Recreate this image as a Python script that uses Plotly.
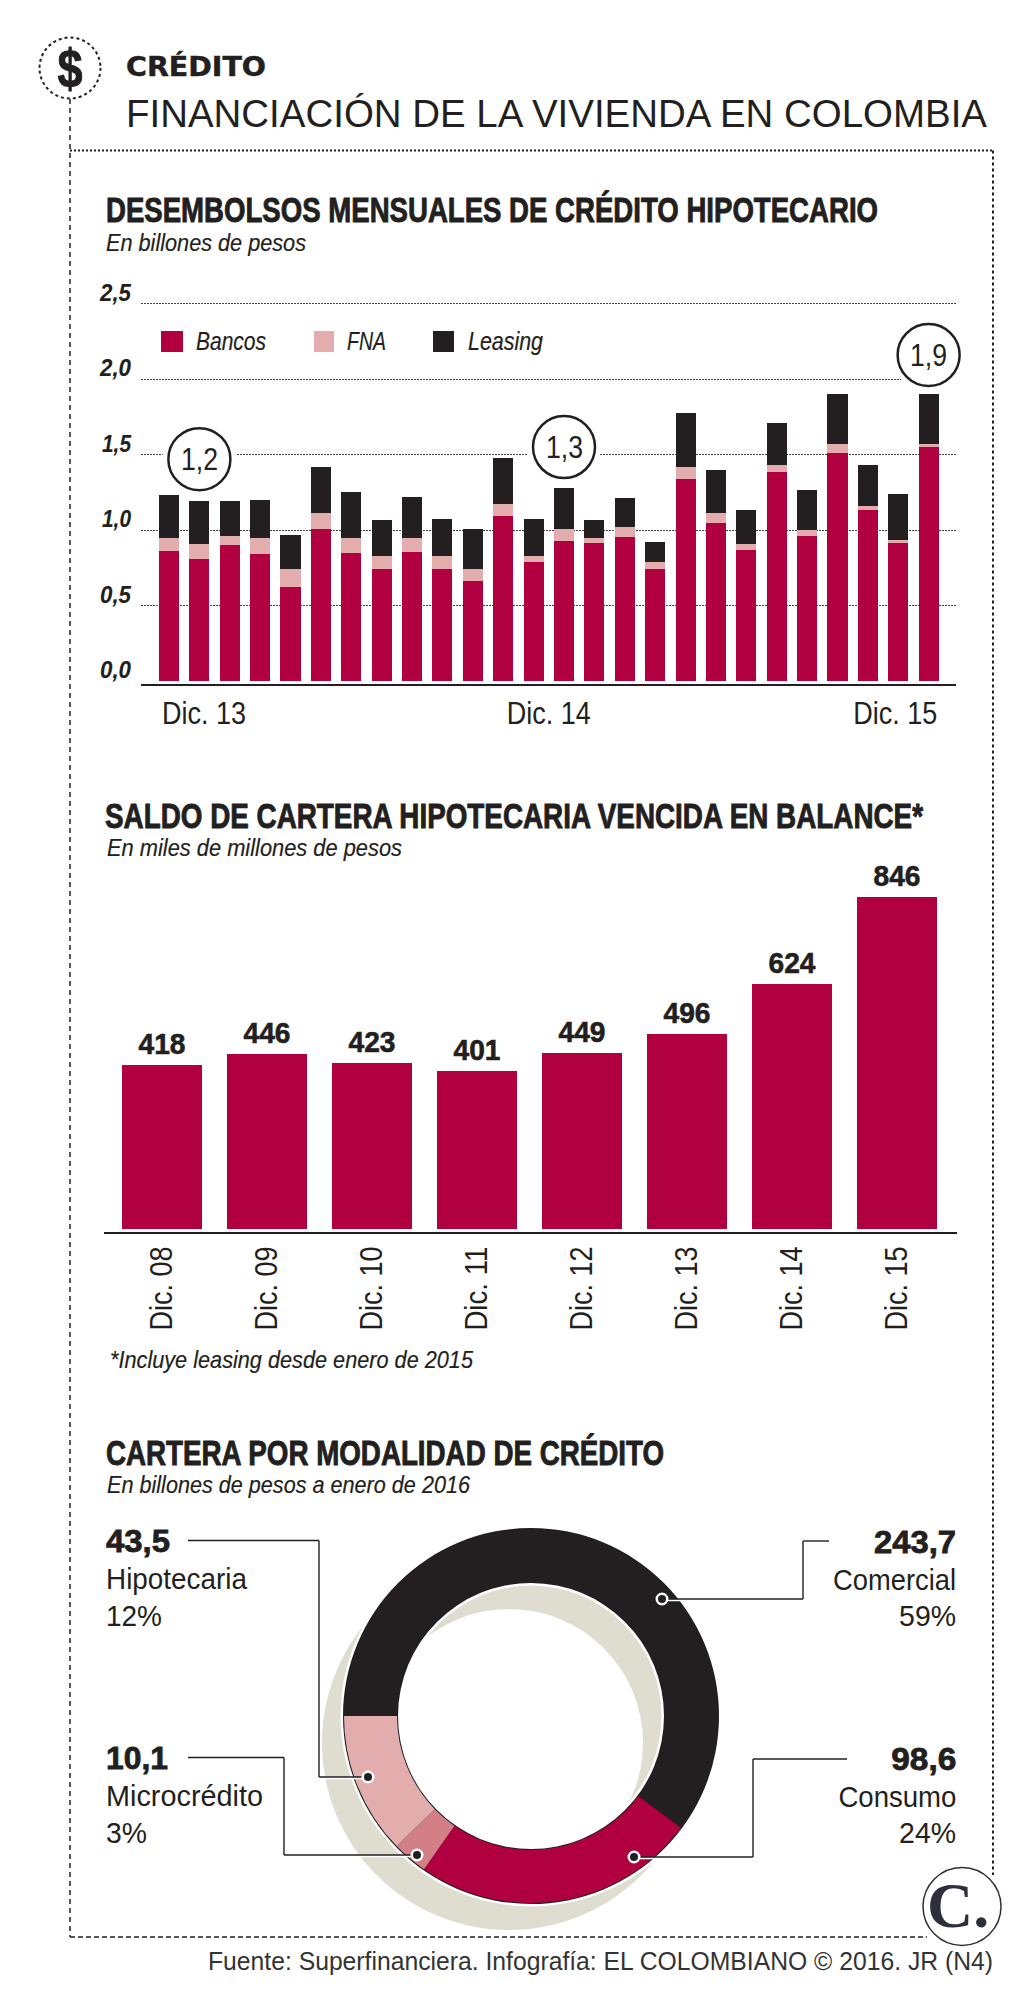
import json
import plotly.graph_objects as go

W, H = 1033, 2000
INK = "#231f20"
CRIMSON = "#b00040"
ROSE = "#e3adae"
ROSE_DARK = "#d27f86"
SAND = "#dfddcf"
SANS = "Liberation Sans"

# Monthly mortgage disbursements, billions of pesos
month_index = list(range(26))
bancos = [0.86, 0.81, 0.90, 0.84, 0.62, 1.01, 0.85, 0.74, 0.855, 0.74, 0.66, 1.09, 0.79, 0.93,
          0.915, 0.955, 0.74, 1.34, 1.05, 0.87, 1.385, 0.96, 1.51, 1.13, 0.915, 1.55]
fna = [0.085, 0.10, 0.06, 0.105, 0.12, 0.10, 0.095, 0.085, 0.09, 0.09, 0.085, 0.08, 0.04, 0.08,
       0.03, 0.065, 0.05, 0.08, 0.06, 0.04, 0.045, 0.04, 0.06, 0.03, 0.02, 0.02]
leasing = [0.29, 0.285, 0.235, 0.255, 0.225, 0.305, 0.305, 0.24, 0.275, 0.245, 0.265, 0.31, 0.245, 0.27,
           0.12, 0.195, 0.13, 0.355, 0.285, 0.225, 0.28, 0.265, 0.33, 0.27, 0.305, 0.33]
axis_values = [0.0, 0.5, 1.0, 1.5, 2.0, 2.5]
axis_labels = ["0,0", "0,5", "1,0", "1,5", "2,0", "2,5"]
month_tick_positions = [1.15, 12.5, 23.9]
month_tick_labels = ["Dic. 13", "Dic. 14", "Dic. 15"]
callout_months = [1, 13, 25]
callout_heights = [1.47, 1.55, 2.16]
callout_labels = ["1,2", "1,3", "1,9"]

# Overdue mortgage balance, thousands of millions of pesos
saldo_years = ["Dic. 08", "Dic. 09", "Dic. 10", "Dic. 11", "Dic. 12", "Dic. 13", "Dic. 14", "Dic. 15"]
saldo_values = [418, 446, 423, 401, 449, 496, 624, 846]

# Portfolio by credit type
cartera_tipos = ["Comercial", "Consumo", "Microcrédito", "Hipotecaria"]
cartera_pct = [59, 24, 3, 12]
cartera_billones = ["243,7", "98,6", "10,1", "43,5"]
cartera_colors = [INK, CRIMSON, ROSE_DARK, ROSE]

# Condensed typesetting: text -> [width in px, anchored edge, stroke thickening]
FIT = {
    "$": [25, "middle", 1.0],
    "CRÉDITO": [140, "start", 0.5],
    "FINANCIACIÓN DE LA VIVIENDA EN COLOMBIA": [861, "start", 0],
    "DESEMBOLSOS MENSUALES DE CRÉDITO HIPOTECARIO": [772, "start", 0.9],
    "SALDO DE CARTERA HIPOTECARIA VENCIDA EN BALANCE*": [818, "start", 0.9],
    "CARTERA POR MODALIDAD DE CRÉDITO": [558, "start", 0.9],
    "En billones de pesos": [200, "start", 0.2],
    "En miles de millones de pesos": [295, "start", 0.2],
    "*Incluye leasing desde enero de 2015": [363, "start", 0.2],
    "En billones de pesos a enero de 2016": [363, "start", 0.2],
    "Bancos": [70, "start", 0.2],
    "FNA": [39, "start", 0.2],
    "Leasing": [75, "start", 0.2],
    "0,0": [31, "end", 0.1], "0,5": [31, "end", 0.1], "1,0": [29, "end", 0.1],
    "1,5": [29, "end", 0.1], "2,0": [31, "end", 0.1], "2,5": [31, "end", 0.1],
    "1,2": [37, "middle", 0], "1,3": [37, "middle", 0], "1,9": [37, "middle", 0],
    "Hipotecaria": [141, "start", 0], "12%": [56, "start", 0],
    "Microcrédito": [157, "start", 0], "3%": [41, "start", 0],
    "Comercial": [123, "end", 0], "59%": [57, "end", 0],
    "Consumo": [118, "end", 0], "24%": [57, "end", 0],
    "43,5": [64, "start", 0.8], "10,1": [62, "start", 0.8],
    "243,7": [82, "end", 0.8], "98,6": [65, "end", 0.8],
    "Fuente: Superfinanciera. Infografía: EL COLOMBIANO © 2016. JR (N4)": [785, "start", 0],
}
for _year in saldo_years:
    FIT[_year] = [84, "", 0]
for _value in saldo_values:
    FIT[str(_value)] = [47, "middle", 0.6]

CONDENSE_JS = """
var fit = %s;
var gd = document.getElementById('{plot_id}');
function condense() {
  gd.querySelectorAll('svg text').forEach(function (el) {
    var spec = fit[el.textContent.trim()];
    if (!spec) { return; }
    el.removeAttribute('textLength');
    var box = el.getBBox();
    el.setAttribute('textLength', spec[0]);
    el.setAttribute('lengthAdjust', 'spacingAndGlyphs');
    if (spec[1] === 'start') {
      el.setAttribute('x', box.x);
      el.setAttribute('text-anchor', 'start');
    } else if (spec[1] === 'end') {
      el.setAttribute('x', box.x + box.width);
      el.setAttribute('text-anchor', 'end');
    }
    if (spec[2]) {
      el.style.stroke = el.style.fill;
      el.style.strokeWidth = spec[2] + 'px';
    }
  });
}
condense();
""" % json.dumps(FIT, ensure_ascii=False)


def px(x):
    return x / W


def py(y):
    return 1 - y / H


def month_x(m):
    return (169 + 30.385 * m) / W


annotations, shapes = [], []


def text(s, x, y, size, family=SANS, bold=False, italic=False, anchor="left", color=INK):
    font = dict(family=family, size=size, color=color,
                weight="bold" if bold else "normal",
                style="italic" if italic else "normal")
    annotations.append(dict(text=s, x=px(x), y=py(y), xref="paper", yref="paper",
                            xanchor=anchor, yanchor="middle", showarrow=False,
                            font=font, borderpad=0))


def rule(x0, y0, x1, y1, width=1.3, dash="solid", color=INK):
    shapes.append(dict(type="line", xref="paper", yref="paper",
                       x0=px(x0), x1=px(x1), y0=py(y0), y1=py(y1),
                       line=dict(color=color, width=width, dash=dash), layer="above"))


def disc(cx, cy, r, fill, line_color=None, line_width=0):
    shapes.append(dict(type="circle", xref="paper", yref="paper",
                       x0=px(cx - r), x1=px(cx + r), y0=py(cy - r), y1=py(cy + r),
                       fillcolor=fill, layer="above",
                       line=dict(color=line_color or fill, width=line_width)))


fig = go.Figure()

# Stacked monthly bars
for name, values, color in [("Bancos", bancos, CRIMSON), ("FNA", fna, ROSE), ("Leasing", leasing, INK)]:
    fig.add_trace(go.Bar(x=month_index, y=values, name=name, marker=dict(color=color, line_width=0),
                         width=0.66, xaxis="x", yaxis="y", showlegend=False))

# Yearly overdue balance bars with their values above
fig.add_trace(go.Bar(x=saldo_years, y=saldo_values, width=0.762, xaxis="x2", yaxis="y2",
                     marker=dict(color=CRIMSON, line_width=0), showlegend=False))
for year, value in zip(saldo_years, saldo_values):
    annotations.append(dict(text=str(value), x=year, y=value, xref="x2", yref="y2", showarrow=False,
                            xanchor="center", yanchor="bottom", yshift=4, borderpad=0,
                            font=dict(family=SANS, size=30, color=INK, weight="bold")))


def ring(cx, cy, r, hole_r, values, colors, rotation=0):
    fig.add_trace(go.Pie(values=values, hole=hole_r / r, sort=False, direction="clockwise",
                         rotation=rotation, textinfo="none", hoverinfo="skip", showlegend=False,
                         marker=dict(colors=colors, line_width=0),
                         domain=dict(x=[px(cx - r), px(cx + r)], y=[py(cy + r), py(cy - r)])))


# Donut with its offset backdrop and thin rims
CX, CY = 531, 1716
ring(CX - 22, CY + 27, 187, 134, [1], [SAND])
ring(CX, CY, 190.5, 130.5, [1], ["#ffffff"])
ring(CX, CY, 188, 133, [1], [INK])
ring(CX, CY, 187, 134, cartera_pct, cartera_colors, rotation=270)

# Header
disc(70, 68, 30.5, "#ffffff", INK, 2)
shapes[-1]["line"]["dash"] = "3px,3px"
text("$", 70, 68, 54, bold=True, anchor="center")
text("CRÉDITO", 125, 67, 27, family="DejaVu Sans", bold=True)
text("FINANCIACIÓN DE LA VIVIENDA EN COLOMBIA", 125, 114, 38)

# Frame
rule(70, 99, 70, 1937, width=1.5, dash="5px,4px")
rule(70, 150.5, 993, 150.5, width=2, dash="2px,2px")
rule(993, 150.5, 993, 1875, width=2, dash="3px,3px")
rule(70, 1937, 927, 1937, width=1.5, dash="5px,3px")

# Section headings
text("DESEMBOLSOS MENSUALES DE CRÉDITO HIPOTECARIO", 105, 209, 35, bold=True)
text("En billones de pesos", 105, 243, 24, italic=True)
text("SALDO DE CARTERA HIPOTECARIA VENCIDA EN BALANCE*", 104, 815, 35, bold=True)
text("En miles de millones de pesos", 106, 848, 24, italic=True)
text("*Incluye leasing desde enero de 2015", 109, 1359, 24, italic=True)
text("CARTERA POR MODALIDAD DE CRÉDITO", 105, 1452, 35, bold=True)
text("En billones de pesos a enero de 2016", 106, 1484, 24, italic=True)

# Value axis labels of the monthly chart sit above their gridlines
for v, lab in zip(axis_values, axis_labels):
    annotations.append(dict(text=lab, x=px(132), y=v, xref="paper", yref="y", xanchor="right",
                            yanchor="bottom", showarrow=False, yshift=-3, borderpad=0,
                            font=dict(family=SANS, size=24, color=INK, weight="bold", style="italic")))

# Legend of the monthly chart
for (name, color), sx, sw, tx in zip([("Bancos", CRIMSON), ("FNA", ROSE), ("Leasing", INK)],
                                     [161, 314, 433], [22, 20, 21], [195, 346, 467]):
    shapes.append(dict(type="rect", xref="paper", yref="paper", x0=px(sx), x1=px(sx + sw),
                       y0=py(352), y1=py(331), fillcolor=color, line_width=0, layer="above"))
    text(name, tx, 341, 25, italic=True)

# Circled readings over selected months
for m, h, lab in zip(callout_months, callout_heights, callout_labels):
    for r, fill, lc, lw in [(37, "#ffffff", "#ffffff", 0), (31, "#ffffff", INK, 2.5)]:
        shapes.append(dict(type="circle", xref="paper", yref="y", xsizemode="pixel", ysizemode="pixel",
                           xanchor=month_x(m), yanchor=h, x0=-r, x1=r, y0=-r, y1=r, fillcolor=fill,
                           layer="above", line=dict(color=lc, width=lw)))
    annotations.append(dict(text=lab, x=m, y=h, xref="x", yref="y", showarrow=False,
                            font=dict(family=SANS, size=31, color=INK)))

# Donut leader lines and their dots
leaders = [
    [(188, 1540.5), (319, 1540.5), (319, 1777), (368, 1777)],
    [(188, 1757.5), (284, 1757.5), (284, 1855), (417, 1855)],
    [(829, 1541), (803, 1541), (803, 1599), (662, 1599)],
    [(847, 1759), (753, 1759), (753, 1857), (634, 1857)],
]
for path in leaders:
    rule(path[-2][0], path[-2][1] + 1.2, path[-1][0], path[-1][1] + 1.2, width=2, color="#ffffff")
    for a, b in zip(path, path[1:]):
        rule(a[0], a[1], b[0], b[1], width=1.4)
    disc(path[-1][0], path[-1][1], 6.5, "#ffffff")
    disc(path[-1][0], path[-1][1], 4, INK)

# Donut figures, left column then right column
for (amount, name, pct), y in zip([(cartera_billones[3], cartera_tipos[3], cartera_pct[3]),
                                   (cartera_billones[2], cartera_tipos[2], cartera_pct[2])], [1541, 1758]):
    text(amount, 105, y, 32, bold=True)
    text(name, 105, y + 37, 30)
    text(f"{pct}%", 105, y + 74, 30)
for (amount, name, pct), y in zip([(cartera_billones[0], cartera_tipos[0], cartera_pct[0]),
                                   (cartera_billones[1], cartera_tipos[1], cartera_pct[1])], [1542, 1759]):
    text(amount, 957, y, 32, bold=True, anchor="right")
    text(name, 957, y + 37, 30, anchor="right")
    text(f"{pct}%", 957, y + 73, 30, anchor="right")

# Credit line and logo
text("Fuente: Superfinanciera. Infografía: EL COLOMBIANO © 2016. JR (N4)", 207, 1961, 25,
     color="#333333")
disc(962, 1906.5, 39, "#ffffff", "#2d2f3a", 1.5)
text("C.", 958, 1905, 64, family="Liberation Serif", bold=True, anchor="center", color="#2d2f3a")

fig.update_layout(
    width=W, height=H, autosize=False, margin=dict(l=0, r=0, t=0, b=0),
    paper_bgcolor="#ffffff", plot_bgcolor="rgba(0,0,0,0)", barmode="stack",
    annotations=annotations, shapes=shapes,
    xaxis=dict(domain=[px(141), px(956)], range=[-0.92, 25.9], anchor="y", tickmode="array",
               tickvals=month_tick_positions, ticktext=month_tick_labels, ticks="", showgrid=False,
               zeroline=False, showline=True, linecolor=INK, linewidth=1.5,
               tickfont=dict(family=SANS, size=32, color=INK)),
    yaxis=dict(domain=[py(684.3), py(300.7)], range=[-0.022, 2.52], anchor="x", tickmode="array",
               tickvals=axis_values[1:], showticklabels=False, ticks="", zeroline=False, showline=False,
               showgrid=True, gridcolor="#444444", gridwidth=1, griddash="2px,1px"),
    xaxis2=dict(domain=[px(104), px(957)], range=[-0.552, 7.571], anchor="y2", type="category",
                categoryorder="array", categoryarray=saldo_years, tickangle=-90, ticks="",
                showgrid=False, zeroline=False, showline=True, linecolor=INK, linewidth=2,
                tickfont=dict(family=SANS, size=32, color=INK)),
    yaxis2=dict(domain=[py(1231.8), py(860)], range=[-8.2, 940], anchor="x2", visible=False,
                showgrid=False, zeroline=False),
)

fig.write_html("out.html", post_script=CONDENSE_JS)
